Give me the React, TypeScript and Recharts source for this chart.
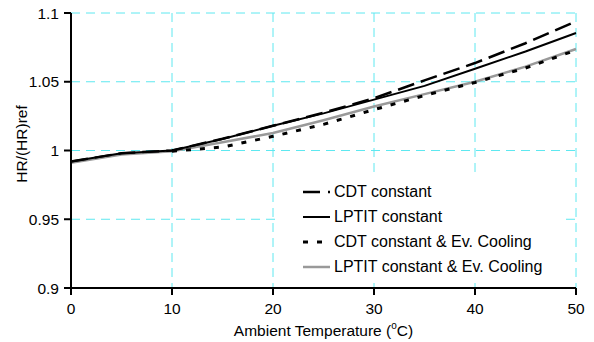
import React from "react";
import { LineChart, Line, XAxis, YAxis, CartesianGrid } from "recharts";

document.body.style.margin = "0";

const temps = [0, 5, 10, 15, 20, 25, 30, 35, 40, 45, 50];
const cdtConstant = [0.992, 0.998, 1.0, 1.0085, 1.018, 1.0275, 1.038, 1.051, 1.0636, 1.078, 1.094];
const lptitConstant = [0.992, 0.998, 1.0, 1.0084, 1.018, 1.027, 1.037, 1.047, 1.0595, 1.072, 1.0855];
const cdtEvCooling = [null, null, 0.9995, 1.0025, 1.0103, 1.019, 1.0297, 1.04, 1.0495, 1.06, 1.073];
const lptitEvCooling = [0.991, 0.997, 0.9995, 1.006, 1.0127, 1.022, 1.032, 1.041, 1.05, 1.061, 1.0738];

const xTicks = [0, 10, 20, 30, 40, 50];
const yTicks = [0.9, 0.95, 1, 1.05, 1.1];

const FONT = "'Liberation Sans', Arial, sans-serif";

const data = temps.map((t, i) => ({
  t,
  cdt: cdtConstant[i],
  lptit: lptitConstant[i],
  cdtEv: cdtEvCooling[i],
  lptitEv: lptitEvCooling[i],
}));

// legend rows, in the order shown in the box
const legendItems = [
  { label: "CDT constant", stroke: "#000", width: 2.5, dash: "17 8" },
  { label: "LPTIT constant", stroke: "#000", width: 2, dash: undefined },
  { label: "CDT constant & Ev. Cooling", stroke: "#000", width: 3, dash: "5 9" },
  { label: "LPTIT constant & Ev. Cooling", stroke: "#999", width: 2.5, dash: undefined },
];

const LegendBox = () => (
  <div
    style={{
      position: "absolute",
      left: 278,
      top: 175,
      width: 287,
      height: 103,
      background: "#fff",
      fontFamily: FONT,
      fontSize: 16,
    }}
  >
    {legendItems.map((item, i) => (
      <div
        key={item.label}
        style={{ position: "absolute", left: 0, top: 6 + i * 25, height: 22, display: "flex", alignItems: "center" }}
      >
        <svg width={56} height={22} style={{ display: "block" }}>
          <line
            x1={25}
            y1={11}
            x2={52}
            y2={11}
            stroke={item.stroke}
            strokeWidth={item.width}
            strokeDasharray={item.dash}
          />
        </svg>
        <span style={{ color: "#000", whiteSpace: "nowrap" }}>{item.label}</span>
      </div>
    ))}
  </div>
);

const XTitle = ({ viewBox }: any) => (
  <text
    x={viewBox.x + viewBox.width / 2}
    y={viewBox.y + 48}
    textAnchor="middle"
    fontFamily={FONT}
    fontSize={15.5}
    fill="#000"
  >
    Ambient Temperature (
    <tspan fontSize={10} dy={-7}>o</tspan>
    <tspan dy={7}>C)</tspan>
  </text>
);

const YTitle = () => (
  <text
    x={21}
    y={144}
    transform="rotate(-90, 21, 144)"
    textAnchor="middle"
    dominantBaseline="central"
    fontFamily={FONT}
    fontSize={15.5}
    fill="#000"
  >
    HR/(HR)ref
  </text>
);

const App: React.FC = () => {
  return (
    <div style={{ position: "relative", width: 594, height: 342, background: "#fff" }}>
      <LineChart
        width={594}
        height={342}
        data={data}
        margin={{ top: 13, right: 18, bottom: 0, left: 0 }}
      >
        <CartesianGrid stroke="#5ee8f0" strokeDasharray="9 6" strokeWidth={1} />
        <XAxis
          dataKey="t"
          type="number"
          domain={[0, 50]}
          ticks={xTicks}
          height={54}
          tickSize={7}
          tickMargin={8}
          axisLine={{ stroke: "#000", strokeWidth: 2 }}
          tickLine={{ stroke: "#000", strokeWidth: 2 }}
          tick={{ fill: "#000", fontFamily: FONT, fontSize: 15.5 }}
          label={<XTitle />}
        />
        <XAxis
          xAxisId="top"
          orientation="top"
          dataKey="t"
          type="number"
          domain={[0, 50]}
          height={0}
          tick={false}
          tickLine={false}
          axisLine={{ stroke: "#000", strokeWidth: 1 }}
        />
        <YAxis
          type="number"
          domain={[0.9, 1.1]}
          ticks={yTicks}
          width={71}
          tickSize={7}
          tickMargin={5}
          axisLine={{ stroke: "#000", strokeWidth: 2 }}
          tickLine={{ stroke: "#000", strokeWidth: 2 }}
          tick={{ fill: "#000", fontFamily: FONT, fontSize: 15.5 }}
          tickFormatter={(v: number) => String(v)}
          label={<YTitle />}
        />
        <YAxis
          yAxisId="right"
          orientation="right"
          domain={[0.9, 1.1]}
          width={0}
          tick={false}
          tickLine={false}
          axisLine={{ stroke: "#2f5f63", strokeWidth: 1.5 }}
        />
        <Line
          dataKey="lptitEv"
          type="linear"
          stroke="#999"
          strokeWidth={2.5}
          dot={false}
          isAnimationActive={false}
        />
        <Line
          dataKey="cdtEv"
          type="linear"
          stroke="#000"
          strokeWidth={3}
          strokeDasharray="5 9"
          dot={false}
          connectNulls={false}
          isAnimationActive={false}
        />
        <Line
          dataKey="lptit"
          type="linear"
          stroke="#000"
          strokeWidth={2}
          dot={false}
          isAnimationActive={false}
        />
        <Line
          dataKey="cdt"
          type="linear"
          stroke="#000"
          strokeWidth={2.5}
          strokeDasharray="17 7"
          dot={false}
          isAnimationActive={false}
        />
      </LineChart>
      <LegendBox />
    </div>
  );
};

export default App;
